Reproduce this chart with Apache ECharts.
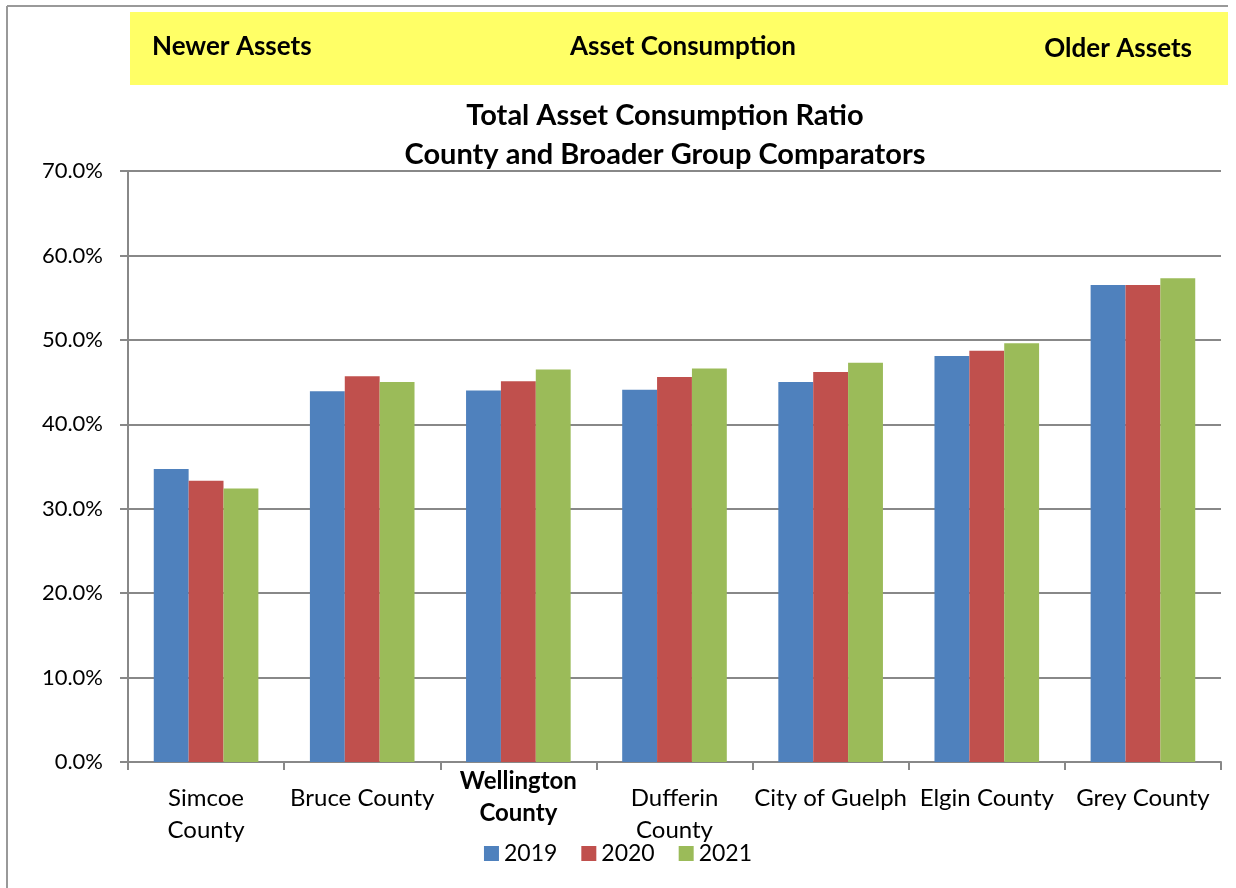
<!DOCTYPE html>
<html>
<head>
  <meta charset="utf-8">
  <title>Total Asset Consumption Ratio</title>
  <script src="https://cdn.jsdelivr.net/npm/echarts@6/dist/echarts.min.js"></script>
  <style>
    html, body { margin: 0; padding: 0; background: #fff; }
    #chart { width: 1236px; height: 888px; }
  </style>
</head>
<body>
  <div id="chart"></div>
  <script>
    // data
    let categories = ['Simcoe\nCounty', 'Bruce County', 'Wellington\nCounty', 'Dufferin\nCounty',
                      'City of Guelph', 'Elgin County', 'Grey County'];
    let years = ['2019', '2020', '2021'];
    let v2019 = [0.347, 0.439, 0.440, 0.441, 0.450, 0.481, 0.565];
    let v2020 = [0.333, 0.457, 0.451, 0.456, 0.462, 0.487, 0.565];
    let v2021 = [0.324, 0.450, 0.465, 0.466, 0.473, 0.496, 0.573];
    let yTicks = [0, 0.1, 0.2, 0.3, 0.4, 0.5, 0.6, 0.7];
    let colors = ['#4F81BD', '#C0504D', '#9BBB59'];

    let font = 'Lato, "Open Sans", sans-serif';
    let myChart = echarts.init(document.getElementById('chart'));

    // the bold county sits a bit higher than the others
    let catData = categories.map(function (c) {
      if (c.indexOf('Wellington') === 0) {
        return { value: c, textStyle: { verticalAlign: 'middle' } };
      }
      return c;
    });

    let option = {
      animation: false,
      color: colors,
      textStyle: { fontFamily: font },
      title: {
        text: 'Total Asset Consumption Ratio\nCounty and Broader Group Comparators',
        left: 660,
        top: 91,
        textAlign: 'center',
        textStyle: { fontSize: 29, fontWeight: 'bold', color: '#000', lineHeight: 39, fontFamily: font }
      },
      legend: {
        data: years,
        left: 'center',
        top: 837,
        itemWidth: 15,
        itemHeight: 15,
        itemGap: 24,
        icon: 'rect',
        textStyle: { fontSize: 23, color: '#000', fontFamily: font }
      },
      grid: { left: 128, right: 15, top: 171, bottom: 126, containLabel: false },
      xAxis: {
        type: 'category',
        data: catData,
        axisLine: { lineStyle: { color: '#888', width: 2 } },
        axisTick: { show: true, length: 8, lineStyle: { color: '#888', width: 2 } },
        axisLabel: {
          interval: 0,
          margin: 20,
          fontSize: 24,
          lineHeight: 32,
          color: '#000',
          fontFamily: font,
          formatter: function (v) {
            if (v.indexOf('Wellington') === 0) {
              return '{s| }\n{b|Wellington}\n{b|County}';
            }
            return v;
          },
          rich: {
            s: { fontSize: 10, lineHeight: 30 },
            b: { fontWeight: 'bold', fontSize: 24, lineHeight: 32, color: '#000', fontFamily: font }
          }
        }
      },
      yAxis: {
        type: 'value',
        min: yTicks[0],
        max: yTicks[yTicks.length - 1],
        interval: 0.1,
        axisLine: { show: true, lineStyle: { color: '#888', width: 2 } },
        axisTick: { show: true, length: 8, lineStyle: { color: '#888', width: 2 } },
        axisLabel: {
          margin: 25,
          fontSize: 22,
          color: '#000',
          fontFamily: font,
          formatter: function (v) { return (v * 100).toFixed(1) + '%'; }
        },
        splitLine: { lineStyle: { color: '#888', width: 2 } }
      },
      graphic: [
        // outer frame
        { type: 'line', shape: { x1: 7, y1: 6, x2: 1228, y2: 6 }, style: { stroke: '#999', lineWidth: 2 } },
        { type: 'line', shape: { x1: 7, y1: 6, x2: 7, y2: 888 }, style: { stroke: '#999', lineWidth: 2 } },
        // yellow banner
        { type: 'rect', shape: { x: 130, y: 12, width: 1098, height: 73 }, style: { fill: '#FFFF66' }, z: 0 },
        { type: 'text', left: 152, top: 34,
          style: { text: 'Newer Assets', font: 'bold 26px ' + font, fill: '#000' } },
        { type: 'text', left: 570, top: 34,
          style: { text: 'Asset Consumption', font: 'bold 26px ' + font, fill: '#000' } },
        { type: 'text', right: 44, top: 36,
          style: { text: 'Older Assets', font: 'bold 26px ' + font, fill: '#000' } }
      ],
      series: [
        { name: years[0], type: 'bar', data: v2019, barGap: '0%', barCategoryGap: '33%' },
        { name: years[1], type: 'bar', data: v2020, barGap: '0%', barCategoryGap: '33%' },
        { name: years[2], type: 'bar', data: v2021, barGap: '0%', barCategoryGap: '33%' }
      ]
    };
    myChart.setOption(option);
  </script>
</body>
</html>
